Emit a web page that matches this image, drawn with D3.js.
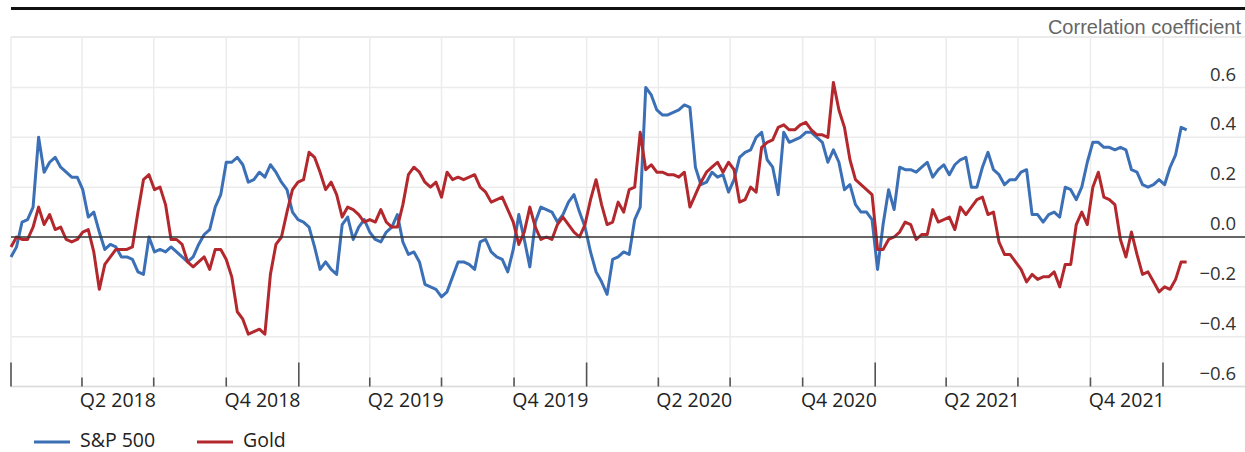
<!DOCTYPE html>
<html>
<head>
<meta charset="utf-8">
<script src="https://cdn.jsdelivr.net/npm/d3@7"></script>
<style>
  body { margin: 0; background: #fff; }
  svg { display: block; }
</style>
</head>
<body>
<svg id="chart" width="1245" height="452"></svg>
<script>
// weekly readings, first week starting 2018-01-01
let startDate = new Date(2018, 0, 1);

let spxValues = [
  -0.08, -0.04, 0.06, 0.07, 0.12, 0.40, 0.26, 0.30, 0.32, 0.28,
  0.26, 0.24, 0.24, 0.19, 0.08, 0.10, 0.02, -0.05, -0.03, -0.04,
  -0.08, -0.08, -0.09, -0.14, -0.15, 0.00, -0.06, -0.05, -0.06, -0.04,
  -0.06, -0.08, -0.10, -0.08, -0.03, 0.01, 0.03, 0.12, 0.17, 0.30,
  0.30, 0.32, 0.29, 0.22, 0.23, 0.26, 0.24, 0.29, 0.26, 0.22,
  0.19, 0.10, 0.07, 0.06, 0.04, -0.04, -0.13, -0.10, -0.13, -0.15,
  0.05, 0.08, -0.01, 0.04, 0.07, 0.02, -0.01, -0.02, 0.02, 0.04,
  0.09, -0.02, -0.07, -0.06, -0.10, -0.19, -0.20, -0.21, -0.24, -0.22,
  -0.16, -0.10, -0.10, -0.11, -0.13, -0.02, -0.01, -0.06, -0.08, -0.09,
  -0.14, -0.05, 0.09, -0.01, -0.12, 0.06, 0.12, 0.11, 0.10, 0.06,
  0.09, 0.14, 0.17, 0.10, 0.04, -0.06, -0.14, -0.18, -0.23, -0.09,
  -0.08, -0.06, -0.07, 0.07, 0.12, 0.60, 0.57, 0.51, 0.49, 0.49,
  0.50, 0.51, 0.53, 0.52, 0.28, 0.21, 0.22, 0.26, 0.24, 0.25,
  0.18, 0.23, 0.32, 0.34, 0.35, 0.40, 0.42, 0.31, 0.28, 0.17,
  0.42, 0.38, 0.39, 0.40, 0.42, 0.42, 0.40, 0.38, 0.30, 0.35,
  0.30, 0.19, 0.21, 0.13, 0.10, 0.10, 0.07, -0.13, 0.05, 0.19,
  0.11, 0.28, 0.27, 0.27, 0.26, 0.28, 0.30, 0.24, 0.27, 0.29,
  0.25, 0.29, 0.31, 0.32, 0.20, 0.20, 0.28, 0.34, 0.27, 0.25,
  0.21, 0.23, 0.23, 0.26, 0.27, 0.09, 0.09, 0.06, 0.09, 0.10,
  0.08, 0.20, 0.19, 0.15, 0.20, 0.30, 0.38, 0.38, 0.36, 0.36,
  0.35, 0.36, 0.35, 0.27, 0.26, 0.21, 0.20, 0.21, 0.23, 0.21,
  0.28, 0.33, 0.44, 0.43
];

let goldValues = [
  -0.04, 0.00, -0.01, -0.01, 0.04, 0.12, 0.05, 0.09, 0.03, 0.04,
  -0.01, -0.02, -0.01, 0.02, 0.03, -0.06, -0.21, -0.11, -0.08, -0.05,
  -0.05, -0.05, -0.04, 0.10, 0.23, 0.25, 0.19, 0.20, 0.13, -0.01,
  -0.01, -0.03, -0.10, -0.12, -0.10, -0.08, -0.13, -0.05, -0.05, -0.09,
  -0.16, -0.30, -0.33, -0.39, -0.38, -0.37, -0.39, -0.15, -0.03, 0.00,
  0.10, 0.19, 0.22, 0.23, 0.34, 0.32, 0.26, 0.19, 0.22, 0.17,
  0.08, 0.12, 0.11, 0.09, 0.06, 0.07, 0.06, 0.11, 0.06, 0.04,
  0.04, 0.13, 0.25, 0.28, 0.26, 0.22, 0.20, 0.22, 0.16, 0.26,
  0.23, 0.24, 0.23, 0.24, 0.25, 0.20, 0.18, 0.14, 0.15, 0.16,
  0.11, 0.06, -0.03, 0.02, 0.12, 0.04, -0.01, 0.00, -0.01, 0.05,
  0.08, 0.05, 0.02, 0.00, 0.05, 0.15, 0.23, 0.13, 0.05, 0.06,
  0.14, 0.10, 0.19, 0.20, 0.42, 0.27, 0.29, 0.26, 0.26, 0.25,
  0.25, 0.24, 0.26, 0.12, 0.17, 0.22, 0.26, 0.28, 0.30, 0.26,
  0.30, 0.27, 0.14, 0.15, 0.20, 0.18, 0.36, 0.38, 0.39, 0.44,
  0.45, 0.43, 0.43, 0.45, 0.46, 0.43, 0.41, 0.41, 0.40, 0.62,
  0.51, 0.44, 0.31, 0.23, 0.21, 0.19, 0.17, -0.05, -0.05, -0.01,
  0.00, 0.02, 0.06, 0.05, -0.01, 0.01, 0.01, 0.11, 0.06, 0.07,
  0.08, 0.03, 0.12, 0.09, 0.12, 0.15, 0.16, 0.09, 0.10, -0.02,
  -0.07, -0.07, -0.10, -0.13, -0.18, -0.15, -0.17, -0.16, -0.16, -0.14,
  -0.20, -0.11, -0.11, 0.05, 0.10, 0.05, 0.20, 0.26, 0.16, 0.15,
  0.13, -0.01, -0.08, 0.02, -0.07, -0.15, -0.14, -0.18, -0.22, -0.20,
  -0.21, -0.17, -0.10, -0.10
];

let yTicks = [-0.6, -0.4, -0.2, 0.0, 0.2, 0.4, 0.6];
let quarterLabels = ["Q2 2018", "Q4 2018", "Q2 2019", "Q4 2019", "Q2 2020", "Q4 2020", "Q2 2021", "Q4 2021"];
let seriesNames = ["S&P 500", "Gold"];
let seriesColours = ["#3b6fb6", "#b3282d"];

let width = 1245, height = 452;
let plotLeft = 11, plotRight = 1245, plotTop = 37, plotBottom = 386.5;

let svg = d3.select("#chart");
let font = "'Open Sans', 'Noto Sans', sans-serif";

let dates = spxValues.map(function (d, i) { return d3.timeDay.offset(startDate, 7 * i); });

let x = d3.scaleTime()
  .domain([new Date(2018, 0, 1), new Date(2022, 0, 1)])
  .range([11, 1163]);

let y = d3.scaleLinear()
  .domain([-0.6, 0.6])
  .range([plotBottom, 87.5]);

// top rule and unit label
svg.append("line")
  .attr("x1", 11).attr("x2", width)
  .attr("y1", 8.5).attr("y2", 8.5)
  .attr("stroke", "#111").attr("stroke-width", 3);

svg.append("text")
  .attr("x", 1241).attr("y", 34)
  .attr("text-anchor", "end")
  .attr("font-family", "'Liberation Sans', Arial, sans-serif")
  .attr("font-size", 20)
  .attr("fill", "#666")
  .text("Correlation coefficient");

// plot frame
svg.append("line")
  .attr("x1", plotLeft).attr("x2", plotRight)
  .attr("y1", plotTop).attr("y2", plotTop)
  .attr("stroke", "#e4e4e4").attr("stroke-width", 1.5);

// vertical grid on quarters
let quarters = d3.timeMonth.every(3).range(new Date(2018, 0, 1), new Date(2022, 0, 2));
svg.append("g")
  .selectAll("line")
  .data(quarters)
  .join("line")
  .attr("x1", d => x(d)).attr("x2", d => x(d))
  .attr("y1", plotTop).attr("y2", plotBottom)
  .attr("stroke", "#ececec").attr("stroke-width", 1.5);

// horizontal grid
svg.append("g")
  .selectAll("line")
  .data(yTicks.filter(d => d !== 0))
  .join("line")
  .attr("x1", plotLeft).attr("x2", plotRight)
  .attr("y1", d => y(d)).attr("y2", d => y(d))
  .attr("stroke", "#ececec").attr("stroke-width", 1.5);

// bottom axis line and ticks
svg.append("line")
  .attr("x1", plotLeft).attr("x2", plotRight)
  .attr("y1", plotBottom).attr("y2", plotBottom)
  .attr("stroke", "#dcdcdc").attr("stroke-width", 1.5);

svg.append("g")
  .selectAll("line")
  .data(quarters)
  .join("line")
  .attr("x1", d => x(d)).attr("x2", d => x(d))
  .attr("y1", d => d.getMonth() === 0 ? plotBottom - 24 : plotBottom - 9)
  .attr("y2", plotBottom)
  .attr("stroke", "#555").attr("stroke-width", 1.6);

// quarter labels centred in Q2 and Q4
let labelQuarters = quarters.filter(d => d.getMonth() === 3 || d.getMonth() === 9).slice(0, quarterLabels.length);
svg.append("g")
  .selectAll("text")
  .data(labelQuarters)
  .join("text")
  .attr("x", d => (x(d) + x(d3.timeMonth.offset(d, 3))) / 2)
  .attr("y", 407)
  .attr("text-anchor", "middle")
  .attr("font-family", font)
  .attr("font-size", 19.5)
  .attr("fill", "#222")
  .text((d, i) => quarterLabels[i]);

// y labels on the right
svg.append("g")
  .selectAll("text")
  .data(yTicks)
  .join("text")
  .attr("x", 1236)
  .attr("y", d => y(d) - 7)
  .attr("text-anchor", "end")
  .attr("font-family", font)
  .attr("font-size", 18.5)
  .attr("fill", "#333")
  .text(d => d3.format(".1f")(d).replace("-", "\u2212"));

// series lines
let line = d3.line()
  .x((d, i) => x(dates[i]))
  .y(d => y(d));

[spxValues, goldValues].forEach(function (values, k) {
  svg.append("path")
    .datum(values)
    .attr("d", line)
    .attr("fill", "none")
    .attr("stroke", seriesColours[k])
    .attr("stroke-width", 3)
    .attr("stroke-linejoin", "round");
});

// zero line
svg.append("line")
  .attr("x1", plotLeft).attr("x2", plotRight)
  .attr("y1", y(0)).attr("y2", y(0))
  .attr("stroke", "#333").attr("stroke-width", 1.5);

// legend
let legendX = [34, 197];
let legend = svg.append("g")
  .selectAll("g")
  .data(seriesNames)
  .join("g")
  .attr("transform", (d, i) => "translate(" + legendX[i] + ",442)");

legend.append("line")
  .attr("x1", 0).attr("x2", 36)
  .attr("stroke", (d, i) => seriesColours[i])
  .attr("stroke-width", 3);

legend.append("text")
  .attr("x", 46).attr("y", 4.5)
  .attr("font-family", font)
  .attr("font-size", 19.5)
  .attr("fill", "#222")
  .text(d => d);
</script>
</body>
</html>
